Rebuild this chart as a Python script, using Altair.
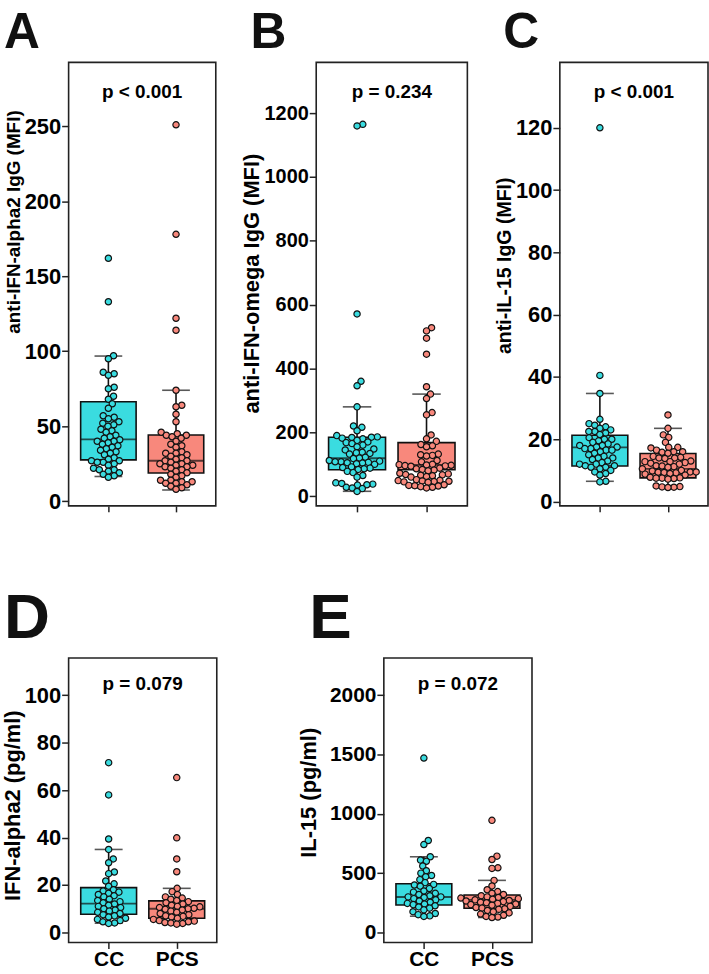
import altair as alt
import numpy as np
import pandas as pd

GROUPS = ["CC", "PCS"]
CYAN = "#3ADCE0"
SALMON = "#F8887C"

# ---------------- data ----------------
A_CC = [162, 133, 97, 95, 86, 85, 84, 76, 75, 70, 68, 65, 62, 57, 56, 55, 53, 52, 51, 50,
        48, 47, 46, 44, 43, 42, 41, 40, 40, 39, 38, 37, 36, 35, 34, 33, 32, 31, 29, 28,
        27, 27, 26, 26, 25, 24, 22, 21, 21, 20, 19, 18, 17, 16]
A_PCS = [251, 178, 122, 114, 74, 64, 63, 58, 53, 46, 45, 44, 44, 43, 42, 40, 38, 37, 36, 33,
         32, 32, 31, 30, 29, 28, 27, 27, 26, 25, 25, 24, 24, 23, 23, 22, 21, 20, 19, 18,
         17, 16, 14, 14, 13, 13, 12, 12, 11, 10, 9, 8]
B_CC = [1165, 1160, 571, 360, 346, 280, 220, 216, 205, 190, 186, 185, 184, 182, 180, 175,
        170, 168, 165, 160, 155, 148, 145, 138, 136, 134, 132, 122, 120, 118, 112, 110, 108,
        108, 106, 105, 104, 102, 100, 92, 90, 88, 86, 84, 78, 74, 65, 60, 42, 40, 38, 36,
        35, 28, 26, 24, 15]
B_PCS = [528, 518, 495, 445, 343, 320, 306, 262, 255, 192, 180, 172, 162, 158, 155, 132,
         130, 128, 126, 112, 108, 100, 99, 98, 97, 96, 95, 94, 88, 86, 84, 82, 80, 72, 70,
         68, 67, 66, 64, 62, 60, 52, 50, 49, 48, 47, 46, 45, 44, 36, 34, 33, 32, 30, 28, 26]
C_CC = [120, 40.5, 34.7, 26.4, 25, 24.5, 24, 23.5, 23, 22.5, 22.5, 22, 21.5, 20.5, 20, 20,
        19.5, 19, 18.5, 18, 18, 17.5, 17.5, 17, 17, 16.5, 16.5, 16, 15.5, 15, 14.5, 14, 14,
        13.5, 13, 12.5, 12, 12, 11.5, 11.5, 11, 11, 10.5, 10, 9.5, 9, 8.5, 6.5, 6.3]
C_PCS = [27.8, 23.5, 21.4, 20.6, 19, 17.4, 17.4, 17.2, 16.5, 16, 16, 15.8, 15.5, 14.5, 14.2,
         14, 14, 13.8, 13, 12.8, 12.8, 12.5, 12.3, 12, 11.5, 11.4, 11.2, 11, 10.5, 10, 9.8,
         9.5, 9.5, 9.4, 9.3, 9.2, 9, 8.8, 8.5, 7.8, 7.6, 7.5, 7.5, 7.4, 7.2, 5, 4.8, 4.7,
         4.6, 4.5]
D_CC = [71.6, 58, 39.4, 35, 31, 29.4, 25.5, 24.8, 21.7, 20.5, 19.5, 18, 17.5, 17, 16.5, 16,
        15.5, 15, 14, 13.5, 13, 12.5, 12, 11.5, 11, 10.5, 10, 9.5, 9, 8.5, 8, 7.5, 7, 6.5,
        6, 5.5, 5, 4.5, 4, 3.8]
D_PCS = [65.3, 39.9, 31, 25.6, 18.6, 17.2, 16, 15, 14.5, 14, 13.5, 13, 12.5, 12, 11.5, 11,
         10.8, 10.5, 10.2, 10, 9.8, 9.5, 9, 8.5, 8, 7.5, 7, 6.8, 6.5, 6, 5.5, 5, 4.8, 4.5,
         4.2, 4, 3.8, 3.5]
E_CC = [1470, 775, 741, 638, 610, 600, 560, 520, 500, 480, 470, 445, 420, 405, 400, 390, 370,
        350, 340, 330, 320, 310, 300, 300, 295, 285, 275, 265, 255, 245, 240, 235, 225, 215,
        205, 190, 175, 160, 150, 140, 135]
E_PCS = [945, 643, 615, 545, 540, 439, 392, 360, 345, 330, 320, 310, 300, 295, 290, 285, 280,
         275, 270, 265, 260, 255, 250, 245, 240, 235, 230, 220, 210, 205, 200, 195, 185, 175,
         165, 155, 145, 135, 130, 126]

# box statistics [CC, PCS]: lower whisker, q1, median, q3, upper whisker
A_LO, A_Q1, A_MED, A_Q3, A_HI = [16.5, 7.5], [27.6, 18.8], [41.3, 27], [66.3, 44.2], [96.8, 74]
B_LO, B_Q1, B_MED, B_Q3, B_HI = [15.5, 26], [83, 83], [119, 98.5], [185, 168], [280, 320]
C_LO, C_Q1, C_MED, C_Q3, C_HI = [6.5, 4.5], [11.4, 7.6], [17.4, 10.5], [21.3, 15.4], [34.7, 23.5]
D_LO, D_Q1, D_MED, D_Q3, D_HI = [3.9, 3.5], [7.7, 6], [12.2, 10], [18.9, 13.3], [35, 18.6]
E_LO, E_Q1, E_MED, E_Q3, E_HI = [137, 126], [232, 204], [299, 274], [411, 316], [638, 439]

P_TEXT = ["p < 0.001", "p = 0.234", "p < 0.001", "p = 0.079", "p = 0.072"]
Y_TITLES = ["anti-IFN-alpha2 IgG (MFI)", "anti-IFN-omega IgG (MFI)", "anti-IL-15 IgG (MFI)",
            "IFN-alpha2 (pg/ml)", "IL-15 (pg/ml)"]
LETTERS = ["A", "B", "C", "D", "E"]
TICKS = [[0, 50, 100, 150, 200, 250], [0, 200, 400, 600, 800, 1000, 1200],
         [0, 20, 40, 60, 80, 100, 120], [0, 20, 40, 60, 80, 100], [0, 500, 1000, 1500, 2000]]

SANS = "Liberation Sans, Arial"
DIAM = 6.0


def swarm(vals, ppu, d=DIAM):
    vals = np.asarray(vals, dtype=float)
    order = np.argsort(vals, kind="stable")
    xs = np.zeros(len(vals))
    placed = []
    for i in order:
        y = vals[i] * ppu
        cands = [0.0]
        for px, py in placed:
            dy = abs(py - y)
            if dy < d:
                dd = np.sqrt(d * d - dy * dy)
                cands += [px + dd, px - dd]
        cands.sort(key=abs)
        for c in cands:
            if all((c - px) ** 2 + (y - py) ** 2 >= d * d - 1e-6 for px, py in placed):
                xs[i] = c
                break
        placed.append((xs[i], y))
    return xs


def panel(cc, pcs, stats, idx, domain, width, height, show_labels, title_x, title_y,
          title_size, label_size, letter_size, letter_dx, letter_off, p_y):
    ppu = height / (domain[1] - domain[0])
    pts = pd.DataFrame({
        "group": ["CC"] * len(cc) + ["PCS"] * len(pcs),
        "value": list(cc) + list(pcs),
        "dx": list(swarm(cc, ppu)) + list(swarm(pcs, ppu)),
    })
    lo, q1, med, q3, hi = stats
    box = pd.DataFrame({"group": GROUPS, "lo": lo, "q1": q1, "med": med, "q3": q3, "hi": hi})
    step = width / (1 + 2 * 0.588)
    box_w = step * 0.82

    xenc = alt.X("group:N", sort=GROUPS,
                 scale=alt.Scale(type="point", domain=GROUPS, padding=0.588),
                 axis=alt.Axis(title=None, labels=show_labels, labelFont=SANS,
                               labelFontSize=21, labelFontWeight="bold", labelColor="black",
                               labelPadding=0, tickSize=6, tickWidth=1.5, tickColor="#222",
                               domain=False, labelAngle=0))
    yscale = alt.Scale(domain=domain, nice=False, zero=False)
    yaxis = alt.Axis(values=TICKS[idx], format="d", title=Y_TITLES[idx], titleFont=SANS,
                     titleFontSize=title_size, titleFontWeight="bold", titleColor="black",
                     titleX=title_x, titleY=title_y, titleAngle=270, titleAlign="center",
                     titleBaseline="middle", labelFont=SANS, labelFontSize=label_size,
                     labelFontWeight="bold", labelColor="black", labelPadding=1,
                     tickSize=7, tickWidth=1.5, tickColor="#222", domain=False, grid=False)
    color = alt.Color("group:N", scale=alt.Scale(domain=GROUPS, range=[CYAN, SALMON]),
                      legend=None)

    bb = alt.Chart(box)
    whisk = bb.mark_rule(color="#111", strokeWidth=1.6).encode(
        x=xenc, y=alt.Y("lo:Q", scale=yscale, axis=yaxis), y2="hi:Q")
    bars = bb.mark_bar(size=box_w, stroke="#111", strokeWidth=1.6).encode(
        x=xenc, y=alt.Y("q1:Q", scale=yscale), y2="q3:Q", color=color)
    medt = bb.mark_tick(size=box_w, thickness=1.8, color="#111").encode(
        x=xenc, y=alt.Y("med:Q", scale=yscale))
    caplo = bb.mark_tick(size=box_w / 2, thickness=1.6, color="#111").encode(
        x=xenc, y=alt.Y("lo:Q", scale=yscale))
    caphi = bb.mark_tick(size=box_w / 2, thickness=1.6, color="#111").encode(
        x=xenc, y=alt.Y("hi:Q", scale=yscale))
    dots = alt.Chart(pts).mark_point(filled=True, shape="circle", size=40, stroke="#111",
                                     strokeWidth=1.2, opacity=1).encode(
        x=xenc,
        xOffset=alt.XOffset("dx:Q", scale=alt.Scale(domain=[-200, 200], range=[-200, 200])),
        y=alt.Y("value:Q", scale=yscale),
        fill=alt.Fill("group:N", scale=alt.Scale(domain=GROUPS, range=[CYAN, SALMON]),
                      legend=None))
    ptxt = alt.Chart(pd.DataFrame({"t": [P_TEXT[idx]]})).mark_text(
        font=SANS, fontSize=19, fontWeight="bold", color="black", align="center",
        baseline="alphabetic").encode(text="t:N", x=alt.value(width / 2), y=alt.value(p_y))

    return alt.layer(whisk, bars, medt, caplo, caphi, dots, ptxt).properties(
        width=width, height=height,
        title=alt.TitleParams(LETTERS[idx], anchor="start", frame="group", fontSize=letter_size,
                              font=SANS, fontWeight="bold", color="#111", dx=letter_dx,
                              offset=letter_off),
    )


TOP_H, BOT_H = 446, 286
pA = panel(A_CC, A_PCS, (A_LO, A_Q1, A_MED, A_Q3, A_HI), 0, [-3.1, 292.6], 148, TOP_H, False,
           -55, 160, 19, 22, 50, -65, 4, 36)
pB = panel(B_CC, B_PCS, (B_LO, B_Q1, B_MED, B_Q3, B_HI), 1, [-30.2, 1359], 152, TOP_H, False,
           -65, 222, 22, 20, 50, -66, 4, 36)
pC = panel(C_CC, C_PCS, (C_LO, C_Q1, C_MED, C_Q3, C_HI), 2, [-1.4, 141], 149, TOP_H, False,
           -56, 204, 19.6, 22, 50, -57, 4, 36)
pD = panel(D_CC, D_PCS, (D_LO, D_Q1, D_MED, D_Q3, D_HI), 3, [-4.2, 115.7], 149, BOT_H, True,
           -56, 148, 22, 22, 64, -65, 7, 32)
pE = panel(E_CC, E_PCS, (E_LO, E_Q1, E_MED, E_Q3, E_HI), 4, [-84, 2313], 149, BOT_H, True,
           -76, 135, 22, 21, 64, -75, 7, 32)

top = alt.hconcat(alt.hconcat(pA, pB, spacing=23), pC, spacing=25)
bottom = alt.hconcat(pD, pE, spacing=79)
chart = alt.vconcat(top, bottom, spacing=73).properties(
    padding={"left": 1, "top": 5, "right": 0, "bottom": 0}, background="white"
).configure_view(stroke="#222", strokeWidth=1.6)

chart.save("out.html", embed_options={"renderer": "svg", "actions": False})
